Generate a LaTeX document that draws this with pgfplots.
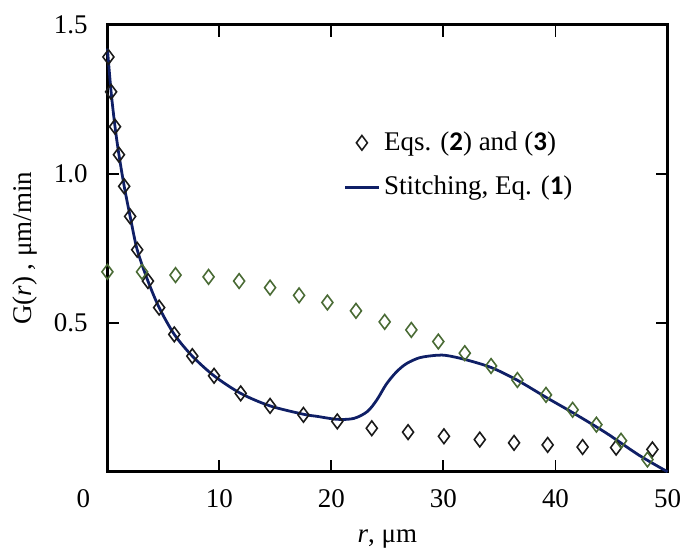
\documentclass[border=0pt]{standalone}
\usepackage{fontspec}
\setmainfont{Liberation Serif}
\newfontfamily\calib{Carlito}
\usepackage{pgfplots}
\pgfplotsset{compat=1.18}
\definecolor{navyc}{HTML}{0F1F66}
\definecolor{greenm}{HTML}{4A6B35}
\definecolor{blackm}{HTML}{1A1A1A}
\begin{document}
\fontsize{13.6pt}{16pt}\selectfont
\begin{tikzpicture}
\begin{axis}[
  scale only axis,
  width=282.4pt, height=225.35pt,
  xmin=0, xmax=50, ymin=0, ymax=1.5,
  xtick={10,20,30,40,50},
  ytick={0.5,1.0,1.5},
  tick align=inside,
  major tick length=6pt,
  axis line style={line width=1.4pt},
  tick style={line width=1pt, black},
  /pgf/number format/assume math mode=true,
  xticklabel style={yshift=-4pt},
  yticklabel style={xshift=-5.2pt, /pgf/number format/.cd, fixed, fixed zerofill, precision=1},
  every axis y label/.style={at={(axis description cs:-0.1465,0.5)}, rotate=90, anchor=center},
  every axis x label/.style={at={(axis description cs:0.5,-0.15)}, anchor=center},
  xlabel={\textit{r}, μm},
  ylabel={G(\textit{r}) , μm/min},
  legend style={draw=none, fill=none, at={(axis description cs:0.421,0.78)}, anchor=north west,
    row sep=7pt, inner xsep=0pt, font=\fontsize{13.6pt}{16pt}\selectfont},
  legend cell align=left,
  clip=false,
]
\addplot[navyc, line width=1.4pt, smooth, tension=0.5, forget plot] coordinates {
(0,1.42) (0.33,1.275) (0.68,1.158) (1.03,1.064) (1.5,0.958) (2.03,0.857) (2.66,0.745)
(3.62,0.64) (4.62,0.551) (5.97,0.461) (7.58,0.388) (9.52,0.322) (11.9,0.263) (14.52,0.221)
(17.5,0.193) (18.7,0.186) (20.5,0.176) (22.0,0.179) (23.2,0.202) (24.05,0.241) (24.9,0.294)
(25.8,0.335) (26.7,0.363) (27.9,0.383) (29.4,0.391) (30.3,0.390) (31.9,0.377) (34.25,0.35)
(36.6,0.307) (39.24,0.248) (41.6,0.197) (44.53,0.13) (47.48,0.055) (50,0.0)
};
\addplot[only marks, mark=diamond, mark size=3.7pt, mark options={blackm, line width=0.8pt, fill=none}] coordinates {
(0.09,1.392) (0.33,1.275) (0.68,1.158) (1.03,1.064) (1.5,0.958) (2.03,0.857) (2.66,0.745)
(3.62,0.640) (4.62,0.551) (5.97,0.461) (7.58,0.388) (9.52,0.322) (11.9,0.263) (14.52,0.221)
(17.5,0.191) (20.52,0.169) (23.6,0.146) (26.84,0.133) (30.04,0.119) (33.24,0.108) (36.3,0.097)
(39.3,0.090) (42.42,0.083) (45.41,0.081) (48.65,0.075)
};
\addlegendentry{Eqs. ({\calib\bfseries 2}) and ({\calib\bfseries 3})}
\addlegendimage{navyc, line width=1.4pt}
\addlegendentry{Stitching, Eq. ({\calib\bfseries 1})}
\addplot[only marks, mark=diamond, mark size=3.7pt, mark options={greenm, line width=0.8pt, fill=none}, forget plot] coordinates {
(0,0.671) (3.09,0.671) (6.08,0.660) (9.03,0.654) (11.76,0.640) (14.52,0.618) (17.11,0.592)
(19.64,0.568) (22.19,0.540) (24.75,0.503) (27.13,0.476) (29.54,0.437) (31.9,0.398) (34.25,0.355)
(36.6,0.308) (39.15,0.258) (41.53,0.208) (43.65,0.158) (45.85,0.104) (48.21,0.041)
};
\node[anchor=north, yshift=-4pt, xshift=-12.15pt, inner sep=0.333em] at (axis cs:0,0) {0};
\path (axis cs:0,0) ++(-54.15pt,-38.15pt) rectangle ++(345pt,276pt);
\end{axis}
\end{tikzpicture}
\end{document}
